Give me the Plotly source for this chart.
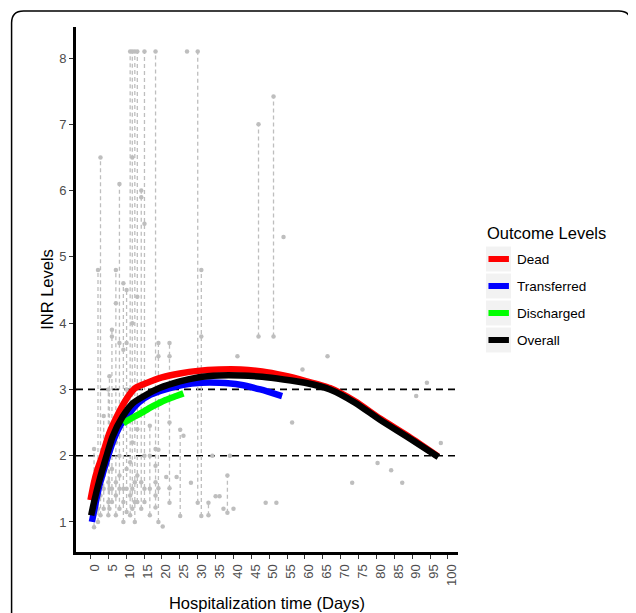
import plotly.graph_objects as go

# ---------------- data ----------------
series_names = ["Dead", "Transferred", "Discharged", "Overall"]
series_colors = ["#FF0000", "#0000FF", "#00FF00", "#000000"]

dead_days = [0, 1, 2, 3.3, 5, 7, 9.3, 11, 12.5, 15, 20, 25, 30, 36, 42, 48, 54, 60, 67, 74, 81, 89, 97.2]
dead_inr = [1.33, 1.6, 1.8, 2.0, 2.3, 2.55, 2.79, 2.93, 3.02, 3.08, 3.18, 3.24, 3.28, 3.3, 3.3, 3.27, 3.21, 3.13, 3.02, 2.82, 2.56, 2.29, 1.99]

transferred_days = [0.4, 1.5, 2.5, 4.4, 6.2, 8.4, 11, 13.5, 16.8, 21, 26, 31, 36, 41.9, 47.5, 53.6]
transferred_inr = [1.0, 1.3, 1.55, 1.9, 2.2, 2.46, 2.65, 2.8, 2.92, 3.0, 3.07, 3.1, 3.1, 3.07, 3.0, 2.9]

discharged_days = [9.2, 12, 15, 17.6, 21, 24, 26]
discharged_inr = [2.49, 2.58, 2.67, 2.75, 2.84, 2.9, 2.94]

overall_days = [0.2, 1, 2.5, 4.4, 6.2, 9, 11.8, 15.6, 19.3, 25, 30, 36, 42, 48, 54, 60, 67, 74, 81, 89, 97.3]
overall_inr = [1.1, 1.3, 1.63, 1.98, 2.29, 2.59, 2.79, 2.92, 3.02, 3.12, 3.18, 3.21, 3.21, 3.19, 3.15, 3.10, 3.0, 2.8, 2.54, 2.27, 1.98]

# individual patients: hospitalization day and their INR measurements
patient_days = [1.0, 2.1, 2.8, 3.7, 5.0, 5.3, 6.0, 7.1, 8.1, 9.2, 10.1, 11.1, 11.7, 12.4, 13.1,
                14.2, 15.1, 16.6, 18.2, 19.0, 20.2, 21.2, 22.1, 24.1, 25.1, 26.0, 27.0, 28.1,
                30.0, 31.0, 33.0, 34.1, 35.0, 36.1, 37.2, 38.3, 39.0, 40.0, 41.1, 47.0, 49.0,
                51.2, 52.0, 54.0, 56.4, 59.3, 66.3, 73.2, 80.3, 84.1, 87.2, 91.1, 94.1, 98.0]
patient_inr = [
    [0.92, 1.1, 1.3, 1.6, 2.1],
    [1.0, 1.2, 1.5, 1.8, 4.8],
    [1.1, 1.4, 1.9, 6.5],
    [1.2, 1.5, 1.7, 2.1, 2.6],
    [1.1, 1.3, 1.6, 2.2, 3.0],
    [1.2, 1.5, 3.2],
    [1.3, 1.5, 1.8, 2.4, 3.8, 3.9],
    [1.1, 1.4, 1.6, 2.2, 4.3, 4.8],
    [1.2, 1.5, 1.7, 2.0, 3.7, 6.1],
    [1.0, 1.3, 1.5, 2.6, 3.6, 4.6],
    [1.15, 1.5, 1.8, 3.0, 3.7, 4.5],
    [1.1, 1.4, 1.9, 8.1],
    [1.2, 1.5, 2.2, 4.0, 6.5, 8.1],
    [1.0, 1.3, 1.6, 8.1],
    [1.3, 1.7, 2.4, 4.4, 8.1],
    [1.2, 1.6, 5.9, 6.0],
    [1.3, 1.5, 2.0, 5.5, 8.1],
    [1.1, 1.5, 2.0, 2.45],
    [1.22, 1.4, 1.6, 1.85, 2.1, 8.1],
    [1.0, 1.51, 2.09, 3.5, 3.7],
    [0.93],
    [1.68],
    [1.29, 1.51, 2.5, 3.5, 3.7],
    [1.68],
    [1.09, 2.39],
    [2.3],
    [8.1],
    [1.59],
    [1.29, 8.1],
    [1.09, 3.8, 4.8],
    [1.1, 1.29],
    [2.0],
    [1.39],
    [1.39],
    [1.2],
    [1.14, 1.7],
    [2.0],
    [1.2],
    [3.5],
    [3.8, 7.0],
    [1.29],
    [3.8, 7.42],
    [1.29],
    [5.3],
    [2.5],
    [3.3],
    [3.5],
    [1.59],
    [1.89],
    [1.78],
    [1.59],
    [2.9],
    [3.1],
    [2.19],
]

x_ticks = list(range(0, 101, 5))
y_ticks = [1, 2, 3, 4, 5, 6, 7, 8]
ref_levels = [2, 3]

x_title = "Hospitalization time (Days)"
y_title = "INR Levels"
legend_title = "Outcome Levels"

# ---------------- layout geometry ----------------
# page body has an 8px margin, so figure pixels = screen pixels - 8
OFF = 8
W, H = 636 - OFF, 613 - OFF
L, R, T, B = 75.5 - OFF, 458 - OFF, 27 - OFF, 552 - OFF
FONT = "Liberation Sans, Arial, sans-serif"


def px(xs):
    """screen x pixel -> paper x"""
    return (xs - OFF - L) / (R - L)


def py(ys):
    """screen y pixel -> paper y"""
    return (B - (ys - OFF)) / (B - T)


fig = go.Figure()

# gray individual trajectories
lx, ly, mx, my = [], [], [], []
for d, vals in zip(patient_days, patient_inr):
    vs = sorted(vals)
    if len(vs) > 1:
        lx += [d] * len(vs) + [None]
        ly += vs + [None]
    mx += [d] * len(vs)
    my += vs

fig.add_trace(go.Scatter(x=lx, y=ly, mode="lines", hoverinfo="skip",
                         line=dict(color="#BEBEBE", width=1.3, dash="4px,3px")))
fig.add_trace(go.Scatter(x=mx, y=my, mode="markers", hoverinfo="skip",
                         marker=dict(color="#BEBEBE", size=4.5, line=dict(width=0))))

# outcome curves
curves = [(dead_days, dead_inr), (transferred_days, transferred_inr),
          (discharged_days, discharged_inr), (overall_days, overall_inr)]
for (xs, ys), name, col in zip(curves, series_names, series_colors):
    fig.add_trace(go.Scatter(x=xs, y=ys, mode="lines", name=name,
                             line=dict(color=col, width=6.5, shape="spline", smoothing=0.6)))

shapes = []
for lv in ref_levels:
    shapes.append(dict(type="line", xref="paper", yref="y", x0=0, x1=1, y0=lv, y1=lv,
                       layer="below", line=dict(color="black", width=1.6, dash="7px,5px")))

# frame with rounded corners
fx0, fx1, fy0, fy1, rr = 11, 631, 11, 650, 12
rx = rr / (R - L)
ry = rr / (B - T)
a0, a1, b0, b1 = px(fx0), px(fx1), py(fy0), py(fy1)
path = (f"M {a0+rx},{b0} L {a1-rx},{b0} Q {a1},{b0} {a1},{b0-ry} "
        f"L {a1},{b1+ry} Q {a1},{b1} {a1-rx},{b1} L {a0+rx},{b1} Q {a0},{b1} {a0},{b1+ry} "
        f"L {a0},{b0-ry} Q {a0},{b0} {a0+rx},{b0} Z")
shapes.append(dict(type="path", xref="paper", yref="paper", path=path,
                   line=dict(color="black", width=1.5), layer="above"))

# manual legend
annotations = []
annotations.append(dict(text=legend_title, xref="paper", yref="paper", x=px(485), y=py(233),
                        xanchor="left", yanchor="middle", showarrow=False,
                        font=dict(family=FONT, size=16.5, color="black")))
for i, (name, col) in enumerate(zip(series_names, series_colors)):
    cy = 259 + i * 27
    shapes.append(dict(type="rect", xref="paper", yref="paper",
                       x0=px(486), x1=px(511), y0=py(cy - 12.5), y1=py(cy + 12.5),
                       fillcolor="#F2F2F2", line=dict(width=0), layer="above"))
    shapes.append(dict(type="line", xref="paper", yref="paper",
                       x0=px(488.5), x1=px(509), y0=py(cy), y1=py(cy),
                       line=dict(color=col, width=6), layer="above"))
    annotations.append(dict(text=name, xref="paper", yref="paper", x=px(515), y=py(cy),
                            xanchor="left", yanchor="middle", showarrow=False,
                            font=dict(family=FONT, size=13.5, color="black")))

fig.update_layout(
    width=W, height=H,
    margin=dict(l=L, r=W - R, t=T, b=H - B, pad=0, autoexpand=False),
    paper_bgcolor="white", plot_bgcolor="white",
    showlegend=False,
    font=dict(family=FONT, color="#4D4D4D"),
    shapes=shapes, annotations=annotations,
    xaxis=dict(range=[-4.05, 102.8], tickvals=x_ticks, ticktext=[str(t) for t in x_ticks],
               tickangle=-90, ticks="outside", ticklen=4, tickwidth=1, tickcolor="#333333",
               ticklabelshift=4, automargin=False,
               tickfont=dict(family=FONT, size=13, color="#4D4D4D"),
               showline=True, linecolor="black", linewidth=3, showgrid=False, zeroline=False,
               title=dict(text=x_title, font=dict(family=FONT, size=16.5, color="black"), standoff=13)),
    yaxis=dict(range=[0.547, 8.468], tickvals=y_ticks, ticktext=[str(t) for t in y_ticks],
               ticks="outside", ticklen=4, tickwidth=1, tickcolor="#333333",
               automargin=False,
               tickfont=dict(family=FONT, size=13, color="#4D4D4D"),
               showline=True, linecolor="black", linewidth=3, showgrid=False, zeroline=False,
               title=dict(text=y_title, font=dict(family=FONT, size=16.5, color="black"), standoff=2)),
)

fig.write_html("out.html")
